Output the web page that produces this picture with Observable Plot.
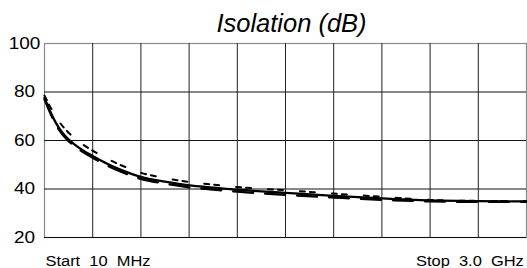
<!DOCTYPE html>
<html>
<head>
<meta charset="utf-8">
<script src="https://cdn.jsdelivr.net/npm/d3@7"></script>
<script src="https://cdn.jsdelivr.net/npm/@observablehq/plot@0.6"></script>
<style>
  html, body { margin: 0; padding: 0; background: #fff; }
  svg { display: block; }
  svg text { white-space: pre; }
</style>
</head>
<body>
<div id="chart"></div>
<script>
// Sweep position in screen divisions (0 = Start 10 MHz, 10 = Stop 3.0 GHz)
const divisions = [0, 0.05, 0.1, 0.2, 0.3, 0.45, 0.6, 0.8, 1, 1.3, 1.6, 2, 2.5, 3, 3.5, 4, 4.5, 5, 6, 7, 8, 9, 10];
const solidValues  = [77.5, 75.2, 72.8, 68.6, 65.2, 61.4, 58.7, 55.9, 53.6, 50.4, 47.8, 45.0, 43.0, 41.5, 40.6, 39.7, 39.0, 38.4, 37.2, 36.1, 35.3, 35.0, 34.9];
const dottedValues = [78.5, 76.6, 74.6, 71.0, 67.9, 64.2, 61.4, 58.3, 55.8, 52.5, 49.7, 46.7, 44.5, 42.9, 41.8, 40.8, 40.1, 39.5, 38.1, 36.8, 35.5, 35.1, 35.0];
const dashedValues = [77.0, 74.6, 72.2, 67.9, 64.5, 60.7, 58.0, 55.2, 52.9, 49.7, 47.0, 44.2, 42.2, 40.7, 39.8, 38.9, 38.2, 37.6, 36.5, 35.5, 34.9, 34.7, 34.7];
const yTicks = [20, 40, 60, 80, 100];
const hGrid = [20, 40, 60, 80];
const vGrid = [1, 2, 3, 4, 5, 6, 7, 8, 9];
const title = "Isolation (dB)";
const startLabel = "Start  10  MHz";
const stopLabel = "Stop  3.0  GHz";

const toRows = (vals) => divisions.map((d, i) => ({d, v: vals[i]}));

const chart = Plot.plot({
  width: 527,
  height: 268,
  marginLeft: 44,
  marginRight: 1,
  marginTop: 43,
  marginBottom: 31,
  style: {fontFamily: "'Liberation Sans', Arial, sans-serif", color: "#000", background: "#fff"},
  x: {domain: [0, 10], axis: null},
  y: {domain: [20, 100], label: null},
  marks: [
    Plot.frame({stroke: "#8a8a8a", strokeWidth: 1.2}),
    Plot.ruleY(hGrid, {stroke: "#111", strokeWidth: 1}),
    Plot.ruleX(vGrid, {stroke: "#222", strokeWidth: 1}),
    Plot.line(toRows(dashedValues), {x: "d", y: "v", curve: "monotone-x", stroke: "#000", strokeWidth: 2.3, strokeDasharray: "20,12"}),
    Plot.line(toRows(dottedValues), {x: "d", y: "v", curve: "monotone-x", stroke: "#000", strokeWidth: 2, strokeDasharray: "5,5,5,17"}),
    Plot.line(toRows(solidValues), {x: "d", y: "v", curve: "monotone-x", stroke: "#000", strokeWidth: 2.3}),
    Plot.axisY(yTicks, {tickSize: 0, tickPadding: 20, textAnchor: "middle", fontSize: 16.5, label: null, fill: "#000"}),
    Plot.text([title], {frameAnchor: "top", lineAnchor: "bottom", dx: 6, dy: -11.3, fontSize: 25.5, fontStyle: "italic", fill: "#000"}),
    Plot.text([startLabel], {frameAnchor: "bottom-left", textAnchor: "start", lineAnchor: "bottom", dx: 1, dy: 28.3, fontSize: 14.3, fill: "#000"}),
    Plot.text([stopLabel], {frameAnchor: "bottom-right", textAnchor: "end", lineAnchor: "bottom", dx: -2.7, dy: 28.3, fontSize: 14.3, fill: "#000"})
  ]
});

document.getElementById("chart").appendChild(chart);

// the reference's sans-serif labels are slightly wide: stretch them horizontally
const stretch = 1.15;
d3.select(chart).selectAll("text").each(function () {
  if (this.textContent === title) return;
  const x = parseFloat(this.getAttribute("x")) || 0;
  const t = this.getAttribute("transform") || "";
  this.setAttribute("transform", `${t} translate(${x},0) scale(${stretch},1)`);
  this.removeAttribute("x");
});
</script>
</body>
</html>
